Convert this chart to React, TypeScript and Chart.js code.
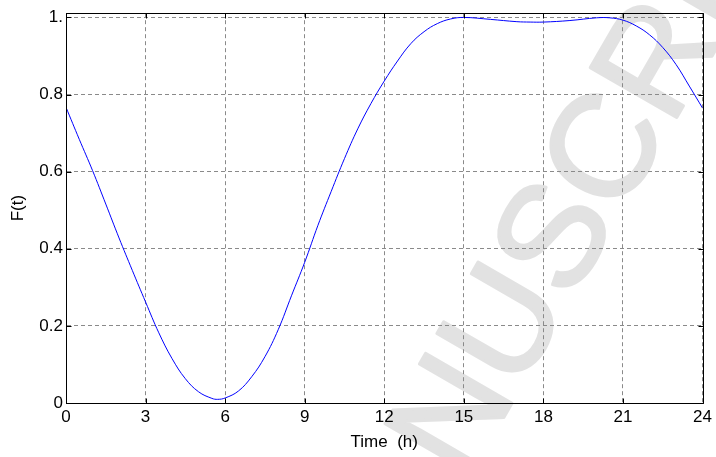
import React, { useEffect, useRef } from "react";
import { Chart, registerables } from "chart.js";

Chart.register(...registerables);

const timeHours = [0, 0.5, 1, 1.5, 2, 2.5, 3, 3.5, 4, 4.5, 5, 5.5, 5.72, 6, 6.5, 7, 7.5, 8, 8.5, 9, 9.5, 10, 10.5, 11, 11.5, 12, 12.5, 13, 13.5, 14, 14.5, 15, 16, 17, 17.5, 18, 19, 20, 20.5, 21, 21.5, 22, 22.5, 23, 23.5, 24];
const fValues = [0.767, 0.684, 0.603, 0.516, 0.428, 0.344, 0.262, 0.182, 0.115, 0.063, 0.029, 0.012, 0.0095, 0.013, 0.031, 0.068, 0.12, 0.19, 0.278, 0.365, 0.461, 0.549, 0.634, 0.711, 0.777, 0.835, 0.887, 0.932, 0.963, 0.984, 0.996, 1.0, 0.995, 0.989, 0.988, 0.988, 0.992, 0.999, 0.999, 0.993, 0.978, 0.955, 0.922, 0.878, 0.822, 0.765];

const xTicks = [0, 3, 6, 9, 12, 15, 18, 21, 24];
const xTickLabels = ["0", "3", "6", "9", "12", "15", "18", "21", "24"];
const yTicks = [0, 0.2, 0.4, 0.6, 0.8, 1];
const yTickLabels = ["0", "0.2", "0.4", "0.6", "0.8", "1."];

const xTitle = "Time  (h)";
const yTitle = "F(t)";
const watermarkText = "MANUSCRIPT";

const FONT = '"Liberation Sans", Arial, sans-serif';

const watermarkPlugin = {
  id: "watermark",
  beforeDraw(chart: any) {
    const ctx = chart.ctx;
    ctx.save();
    ctx.translate(322, 652);
    ctx.rotate((-60 * Math.PI) / 180);
    ctx.font = `145px ${FONT}`;
    ctx.fillStyle = "#e2e2e2";
    ctx.strokeStyle = "#e2e2e2";
    ctx.lineWidth = 3;
    ctx.lineJoin = "round";
    ctx.textBaseline = "middle";
    ctx.textAlign = "left";
    ctx.fillText(watermarkText, 0, 0);
    ctx.strokeText(watermarkText, 0, 0);
    ctx.restore();
  },
};

const framePlugin = {
  id: "frame",
  afterDraw(chart: any) {
    const { ctx, chartArea } = chart;
    const { left, right, top, bottom } = chartArea;
    const xs = chart.scales.x;
    const ys = chart.scales.y;
    const L = Math.round(left) + 0.5;
    const R = Math.round(right) + 0.5;
    const T = Math.round(top) + 0.5;
    const B = Math.round(bottom) + 0.5;
    ctx.save();
    ctx.strokeStyle = "#000";
    ctx.lineWidth = 1;
    ctx.setLineDash([]);
    ctx.beginPath();
    ctx.moveTo(L, T);
    ctx.lineTo(R, T);
    ctx.lineTo(R, B);
    ctx.lineTo(L, B);
    ctx.closePath();
    const tl = 5;
    xTicks.forEach((v) => {
      const px = Math.round(xs.getPixelForValue(v)) + 0.5;
      ctx.moveTo(px, B);
      ctx.lineTo(px, B - tl);
      ctx.moveTo(px, T);
      ctx.lineTo(px, T + tl);
    });
    yTicks.forEach((v) => {
      const py = Math.round(ys.getPixelForValue(v)) + 0.5;
      ctx.moveTo(L, py);
      ctx.lineTo(L + tl, py);
      ctx.moveTo(R, py);
      ctx.lineTo(R - tl, py);
    });
    ctx.stroke();
    ctx.restore();
  },
};

export default function App() {
  const canvasRef = useRef<HTMLCanvasElement | null>(null);

  useEffect(() => {
    if (!canvasRef.current) return;
    const tickFont = { family: FONT, size: 17 };
    const chart = new Chart(canvasRef.current, {
      type: "line",
      data: {
        datasets: [
          {
            data: timeHours.map((t, i) => ({ x: t, y: fValues[i] })),
            borderColor: "#0000ff",
            borderWidth: 1,
            pointRadius: 0,
            fill: false,
            tension: 0.4,
          },
        ],
      },
      options: {
        animation: false,
        responsive: true,
        maintainAspectRatio: false,
        layout: { padding: { top: 8, right: 11, left: 0, bottom: 0 } },
        plugins: { legend: { display: false }, tooltip: { enabled: false } },
        scales: {
          x: {
            type: "linear",
            min: 0,
            max: 24,
            afterBuildTicks: (s: any) => {
              s.ticks = xTicks.map((v) => ({ value: v }));
            },
            afterFit: (s: any) => {
              s.height = 54;
            },
            ticks: {
              font: tickFont,
              color: "#000",
              padding: 4,
              maxRotation: 0,
              autoSkip: false,
              callback: (_v: any, i: number) => xTickLabels[i],
            },
            grid: { color: "#8a8a8a", lineWidth: 1, drawTicks: false },
            border: { display: true, color: "#000", width: 1, dash: [4, 3] },
            title: {
              display: true,
              text: xTitle,
              font: tickFont,
              color: "#000",
              padding: { top: 0, bottom: 4 },
            },
          },
          y: {
            type: "linear",
            min: 0,
            max: 1.011,
            afterBuildTicks: (s: any) => {
              s.ticks = yTicks.map((v) => ({ value: v }));
            },
            afterFit: (s: any) => {
              s.width = 66;
            },
            ticks: {
              font: tickFont,
              color: "#000",
              padding: 3,
              autoSkip: false,
              callback: (_v: any, i: number) => yTickLabels[i],
            },
            grid: { color: "#8a8a8a", lineWidth: 1, drawTicks: false },
            border: { display: true, color: "#000", width: 1, dash: [4, 3] },
            title: {
              display: true,
              text: yTitle,
              font: tickFont,
              color: "#000",
              padding: { top: 8.6, bottom: 0 },
            },
          },
        },
      },
      plugins: [watermarkPlugin, framePlugin],
    } as any);
    return () => chart.destroy();
  }, []);

  return (
    <div style={{ position: "fixed", left: 0, top: 0, width: 716, height: 457, background: "#fff" }}>
      <canvas ref={canvasRef} />
    </div>
  );
}
